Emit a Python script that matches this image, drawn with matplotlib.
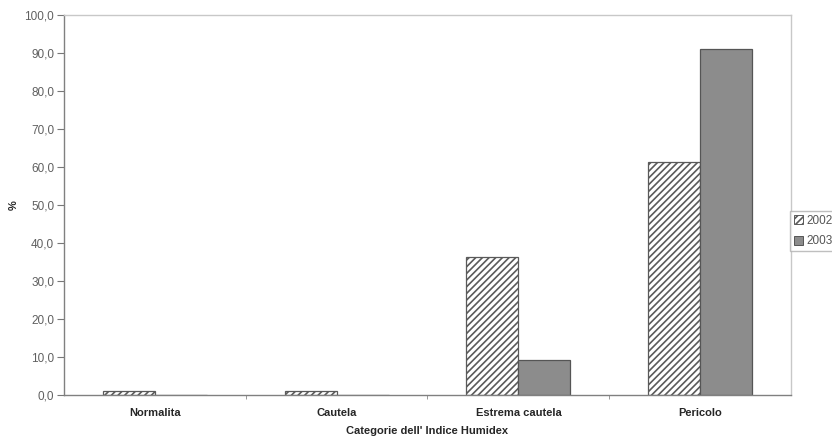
import numpy as np
import matplotlib.pyplot as plt
from matplotlib.ticker import FuncFormatter, FixedLocator

plt.rcParams['font.family'] = ['Liberation Sans', 'DejaVu Sans']
plt.rcParams['hatch.linewidth'] = 1.2
plt.rcParams['hatch.color'] = '#6a6a6a'

categories = ['Normalita', 'Cautela', 'Estrema cautela', 'Pericolo']
years = ['2002', '2003']
pct_2002 = [1.0, 1.0, 36.3, 61.3]
pct_2003 = [0.0, 0.0, 9.1, 91.0]

fig = plt.figure(figsize=(8.32, 4.43), dpi=100)
ax = fig.add_axes([64 / 832, 48 / 443, 727 / 832, 380 / 443])

x = np.arange(len(categories))
w = 1 / 3.5  # excel style, gap width 150%

ax.bar(x - w / 2, pct_2002, w, color='white', edgecolor='#5a5a5a',
       hatch='/////', linewidth=0.9, label=years[0])
ax.bar(x + w / 2, pct_2003, w, color='#8c8c8c', edgecolor='#555555',
       linewidth=0.9, label=years[1])

ax.set_xlim(-0.5, len(categories) - 0.5)
ax.set_ylim(0, 100)
ax.set_yticks(np.arange(0, 101, 10))
ax.yaxis.set_major_formatter(FuncFormatter(lambda v, p: f'{v:.1f}'.replace('.', ',')))

ax.xaxis.set_major_locator(FixedLocator(x))
ax.set_xticklabels(categories, fontsize=8, fontweight='bold', color='#262626')
ax.xaxis.set_minor_locator(FixedLocator(np.arange(0.5, len(categories) - 0.5, 1)))
ax.tick_params(axis='x', which='major', length=0, pad=9)
ax.tick_params(axis='x', which='minor', length=3, color='#888888', direction='out')
ax.tick_params(axis='y', length=5, color='#777777', labelsize=8.5,
               labelcolor='#606060', pad=2)

for side in ['top', 'right']:
    ax.spines[side].set_color('#c8c8c8')
    ax.spines[side].set_linewidth(1.0)
for side in ['left', 'bottom']:
    ax.spines[side].set_color('#808080')
    ax.spines[side].set_linewidth(1.0)

ax.set_xlabel("Categorie dell' Indice Humidex", fontsize=8,
              fontweight='bold', color='#262626', labelpad=6)
ax.set_ylabel('%', fontsize=8, fontweight='bold', color='#262626')
ax.yaxis.set_label_coords(-45 / 727, 0.5)

leg = ax.legend(loc='upper left', bbox_to_anchor=(790 / 832, 232 / 443),
                bbox_transform=fig.transFigure, fontsize=8.5, frameon=True,
                fancybox=False, edgecolor='#b0b0b0', handlelength=0.8,
                handleheight=0.8, handletextpad=0.3, borderpad=0.3,
                labelspacing=0.75, borderaxespad=0)
for h in leg.legend_handles:
    h.set_linewidth(0.7)
for t in leg.get_texts():
    t.set_color('#555555')

fig.savefig('out.png', dpi=100)
